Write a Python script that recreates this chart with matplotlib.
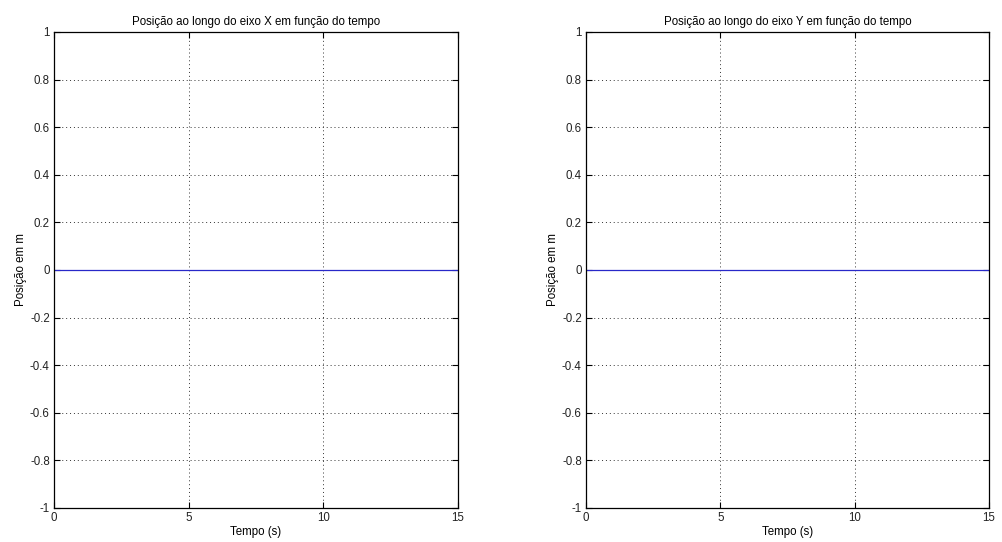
import matplotlib
import numpy as np

matplotlib.use('Agg')
import matplotlib.pyplot as plt

# dados: posição em função do tempo
tempo = [0, 15]
pos_x = [0, 0]
pos_y = [0, 0]

x_ticks = [0, 5, 10, 15]
y_ticks = [-1, -0.8, -0.6, -0.4, -0.2, 0, 0.2, 0.4, 0.6, 0.8, 1]
y_labels = ['-1', '-0.8', '-0.6', '-0.4', '-0.2', '0', '0.2', '0.4', '0.6', '0.8', '1']

plt.rcParams['font.family'] = ['Liberation Sans', 'DejaVu Sans']
plt.rcParams['font.size'] = 8.3

fig = plt.figure(figsize=(10.03, 5.42), dpi=100)

W, H = 1003, 542
ax1 = fig.add_axes([54 / W, 1 - 508 / H, 404 / W, 476 / H])
ax2 = fig.add_axes([586 / W, 1 - 508 / H, 403 / W, 476 / H])

for ax, pos, eixo in [(ax1, pos_x, 'X'), (ax2, pos_y, 'Y')]:
    ax.plot(tempo, pos, color='#2828c8', linewidth=0.9)
    ax.set_xlim(0, 15)
    ax.set_ylim(-1, 1)
    ax.set_xticks(x_ticks)
    ax.set_yticks(y_ticks)
    ax.set_yticklabels(y_labels)
    ax.grid(True, linestyle=(0, (1, 3)), color='#333333', linewidth=0.7)
    ax.tick_params(direction='in', length=4, width=0.8, top=True, right=True,
                   colors='black', labelcolor='#222222', pad=3)
    for s in ax.spines.values():
        s.set_linewidth(0.9)
    ax.set_title(f'Posição ao longo do eixo {eixo} em função do tempo', fontsize=8.3, pad=5)
    ax.set_xlabel('Tempo (s)', labelpad=1)
    ax.set_ylabel('Posição em m', labelpad=2)

fig.savefig('out.png', dpi=100, facecolor='white')
